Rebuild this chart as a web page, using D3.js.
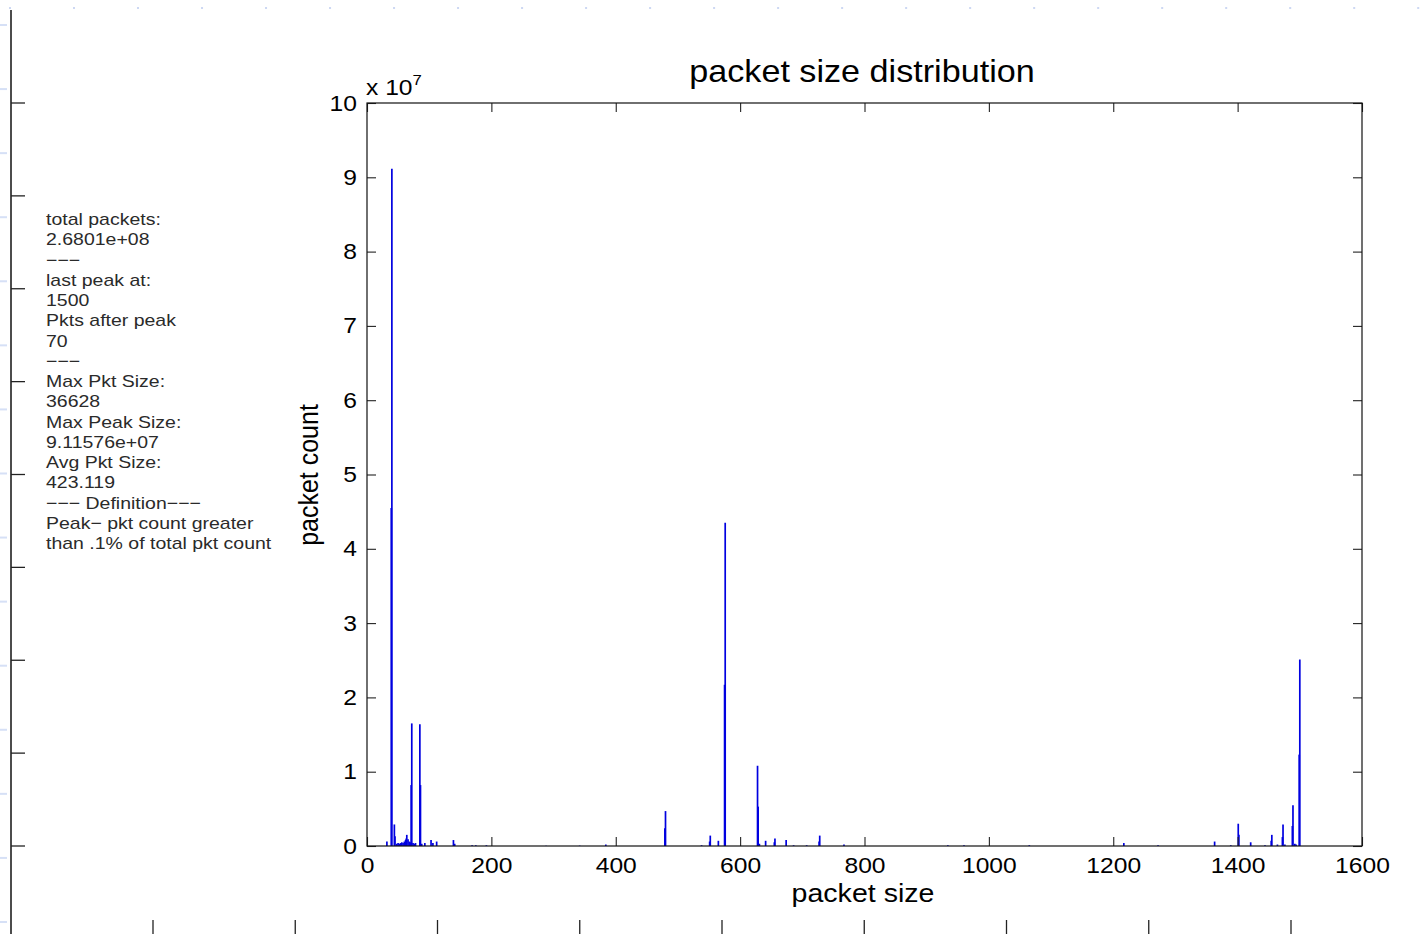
<!DOCTYPE html>
<html><head><meta charset="utf-8">
<script src="https://cdn.jsdelivr.net/npm/d3@7"></script>
<style>
body{margin:0;background:#fff}
svg{display:block;background:#fff}
text{font-family:"Liberation Sans",Arial,Helvetica,sans-serif}
</style>
</head><body>
<svg id="c" width="1422" height="934"></svg>
<script>
// ---- data (packet size in bytes, packet count) ----
const packetSizes = [32,39,40,44,45,48,50,52,54,56,58,60,62,63,64,66,68,70,71,72,74,76,78,85,86,88,93,103,106,112,139,141,169,175,192,288,342,384,
  479,480,538,551,552,565,575,576,628,629,631,641,655,656,674,686,707,727,728,767,934,960,1065,1217,1272,1363,1389,
  1401,1402,1421,1444,1454,1455,1464,1472,1473,1476,1488,1489,1492,1494,1499,1500];
const packetCounts = [0.06e7,4.55e7,9.11576e7,0.29e7,0.13e7,0.03e7,0.04e7,0.03e7,0.04e7,0.05e7,0.04e7,0.06e7,0.08e7,0.10e7,0.15e7,0.09e7,0.06e7,0.05e7,0.82e7,1.65e7,0.04e7,0.03e7,0.04e7,1.64e7,0.82e7,0.03e7,0.04e7,0.08e7,0.04e7,0.06e7,0.08e7,0.03e7,0.01e7,0.01e7,0.01e7,0.005e7,0.005e7,0.02e7,
  0.24e7,0.47e7,0.01e7,0.06e7,0.14e7,0.07e7,2.17e7,4.35e7,1.08e7,0.53e7,0.03e7,0.07e7,0.05e7,0.10e7,0.08e7,0.01e7,0.01e7,0.06e7,0.14e7,0.02e7,0.01e7,0.01e7,0.01e7,0.04e7,0.01e7,0.06e7,0.01e7,
  0.30e7,0.15e7,0.05e7,0.01e7,0.07e7,0.15e7,0.02e7,0.12e7,0.29e7,0.02e7,0.27e7,0.55e7,0.03e7,0.02e7,1.23e7,2.51e7];
const xTickValues = [0,200,400,600,800,1000,1200,1400,1600];
const yTickValues = [0,1e7,2e7,3e7,4e7,5e7,6e7,7e7,8e7,9e7,1e8];
const panelLines = ["total packets:","2.6801e+08","\u2212\u2212\u2212","last peak at:","1500","Pkts after peak","70","\u2212\u2212\u2212",
  "Max Pkt Size:","36628","Max Peak Size:","9.11576e+07","Avg Pkt Size:","423.119","\u2212\u2212\u2212 Definition\u2212\u2212\u2212",
  "Peak\u2212 pkt count greater","than .1% of total pkt count"];
const titleText = "packet size distribution";
const xLabel = "packet size";
const yLabel = "packet count";
const expBase = "x 10", expPow = "7";

// ---- layout ----
const SX = 1.12; // horizontal stretch of the original screenshot
const m = {left:367, right:1362, top:103, bottom:846};
const svg = d3.select("#c");
const x = d3.scaleLinear().domain([0,1600]).range([m.left, m.right]);
const y = d3.scaleLinear().domain([0,1e8]).range([m.bottom, m.top]);

// ---- surrounding window decorations ----
const deco = svg.append("g");
deco.selectAll("rect.td").data(d3.range(23)).join("rect").attr("class","td")
  .attr("x", i => 9 + i*64.01).attr("y", 7).attr("width", 2).attr("height", 2).attr("fill", "#cdd8f3");
deco.selectAll("rect.ld").data(d3.range(15)).join("rect").attr("class","ld")
  .attr("x", 0).attr("y", i => 24 + i*64.07).attr("width", 7).attr("height", 2).attr("fill", "#d6e0f6");
deco.append("line").attr("x1", 11).attr("x2", 11).attr("y1", 10).attr("y2", 934).attr("stroke", "#111").attr("stroke-width", 1.5);
deco.selectAll("line.lt").data(d3.range(9)).join("line").attr("class","lt")
  .attr("x1", 11).attr("x2", 25).attr("y1", i => y(i*1.25e7)).attr("y2", i => y(i*1.25e7))
  .attr("stroke", "#222").attr("stroke-width", 1.3);
deco.selectAll("line.bt").data(d3.range(9)).join("line").attr("class","bt")
  .attr("x1", i => 153 + i*142.25).attr("x2", i => 153 + i*142.25).attr("y1", 920).attr("y2", 934)
  .attr("stroke", "#222").attr("stroke-width", 1.3);

// ---- side info panel ----
svg.append("g").selectAll("text").data(panelLines).join("text")
  .attr("transform", (d,i) => `translate(46,${225 + i*20.25}) scale(${SX},1)`)
  .attr("font-size", 17.4).attr("fill", "#2a2a2a").text(d => d);

// ---- spikes ----
svg.append("g").selectAll("line").data(d3.zip(packetSizes, packetCounts)).join("line")
  .attr("x1", d => x(d[0])).attr("x2", d => x(d[0]))
  .attr("y1", y(0)).attr("y2", d => y(d[1]))
  .attr("stroke", "#0000e0").attr("stroke-width", 1.7);

// ---- axes ----
function styleAxis(g){ g.select(".domain").remove(); g.selectAll(".tick line").attr("stroke","#222").attr("stroke-width",1.1); }
const gl = svg.append("g").attr("transform", `translate(${m.left},0)`)
  .call(d3.axisLeft(y).tickValues(yTickValues).tickSize(-9).tickPadding(10).tickFormat(d => d/1e7));
styleAxis(gl);
gl.selectAll(".tick text").attr("x", 0).attr("transform", `translate(-10,0) scale(${SX},1)`)
  .attr("font-size", 22).attr("fill", "#000").attr("font-family", null);
const gr = svg.append("g").attr("transform", `translate(${m.right},0)`)
  .call(d3.axisRight(y).tickValues(yTickValues).tickSize(-9).tickFormat(""));
styleAxis(gr);
const gb = svg.append("g").attr("transform", `translate(0,${m.bottom})`)
  .call(d3.axisBottom(x).tickValues(xTickValues).tickSize(-9).tickPadding(11).tickFormat(d3.format("d")));
styleAxis(gb);
gb.selectAll(".tick text").attr("y", 0).attr("transform", `translate(0,11) scale(${SX},1)`)
  .attr("font-size", 22).attr("fill", "#000").attr("font-family", null);
const gt = svg.append("g").attr("transform", `translate(0,${m.top})`)
  .call(d3.axisTop(x).tickValues(xTickValues).tickSize(-9).tickFormat(""));
styleAxis(gt);

svg.append("rect").attr("x", m.left).attr("y", m.top).attr("width", m.right - m.left).attr("height", m.bottom - m.top)
  .attr("fill", "none").attr("stroke", "#111").attr("stroke-width", 1.2);

// ---- labels ----
const ex = svg.append("text").attr("transform", `translate(366,95) scale(${SX},1)`).attr("font-size", 22).attr("fill", "#000");
ex.append("tspan").text(expBase);
ex.append("tspan").attr("font-size", 15).attr("dy", -10).text(expPow);

svg.append("text").attr("transform", `translate(862,82) scale(${SX},1)`).attr("text-anchor", "middle")
  .attr("font-size", 30.5).attr("fill", "#000").text(titleText);
svg.append("text").attr("transform", `translate(863,902) scale(${SX},1)`).attr("text-anchor", "middle")
  .attr("font-size", 25.5).attr("fill", "#000").text(xLabel);
svg.append("text").attr("transform", `translate(318,475) scale(${SX},1) rotate(-90)`).attr("text-anchor", "middle")
  .attr("font-size", 25).attr("fill", "#000").text(yLabel);
</script>
</body></html>
